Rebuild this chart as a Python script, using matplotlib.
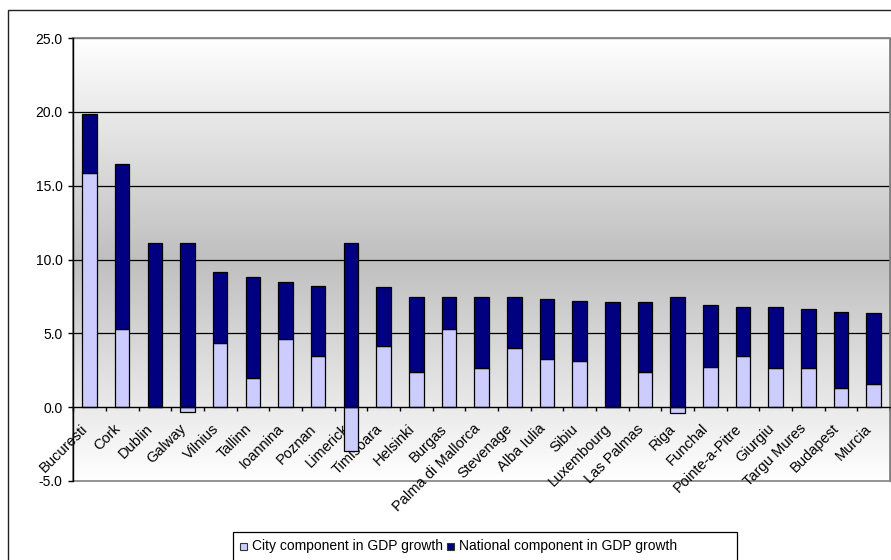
import numpy as np
import matplotlib
matplotlib.use("Agg")
import matplotlib.pyplot as plt
from matplotlib.patches import Rectangle
from matplotlib.transforms import ScaledTranslation

plt.rcParams['font.family'] = ['Liberation Sans', 'DejaVu Sans']
plt.rcParams['font.size'] = 10

cities = ["Bucuresti", "Cork", "Dublin", "Galway", "Vilnius", "Tallinn", "Ioannina",
          "Poznan", "Limerick", "Timisoara", "Helsinki", "Burgas", "Palma di Mallorca",
          "Stevenage", "Alba Iulia", "Sibiu", "Luxembourg", "Las Palmas", "Riga",
          "Funchal", "Pointe-a-Pitre", "Giurgiu", "Targu Mures", "Budapest", "Murcia"]

city_component = [15.84, 5.29, 0.0, -0.32, 4.32, 1.99, 4.62, 3.46, -3.0, 4.13, 2.39,
                  5.28, 2.66, 4.02, 3.25, 3.16, 0.0, 2.39, -0.38, 2.75, 3.45, 2.66,
                  2.66, 1.31, 1.60]

national_component = [3.98, 11.15, 11.15, 11.15, 4.84, 6.81, 3.86, 4.75, 11.15, 4.00,
                      5.04, 2.15, 4.77, 3.41, 4.06, 4.06, 7.13, 4.74, 7.43, 4.18, 3.30,
                      4.09, 3.98, 5.15, 4.77]

series_labels = ["City component in GDP growth", "National component in GDP growth"]
y_ticks = [-5, 0, 5, 10, 15, 20, 25]

CITY_COLOR = "#CCCCFF"
NATIONAL_COLOR = "#000080"

W, H = 891, 560
fig = plt.figure(figsize=(W / 100, H / 100), dpi=100)
fig.patch.set_facecolor("white")

left, right, top, bottom = 73.3, 890, 38, 481
ax = fig.add_axes([left / W, 1 - bottom / H, (right - left) / W, (bottom - top) / H])

x = np.arange(len(cities))
city = np.array(city_component)
national = np.array(national_component)

ax.set_xlim(-0.5, len(cities) - 0.5)
ax.set_ylim(y_ticks[0], y_ticks[-1])

# vertical gradient: light at top and bottom, grey in the middle
t = np.linspace(0, 1, 400)
shade = 1 - (1 - np.abs(2 * t - 1)) * (1 - 0.75)
grad = np.repeat(shade[:, None], 3, axis=1)[:, None, :]
ax.imshow(grad, extent=[0, 1, 0, 1], transform=ax.transAxes, aspect="auto",
          zorder=0, interpolation="bilinear")
ax.set_facecolor("none")

# horizontal gridlines inside the value range
for yv in y_ticks[1:-1]:
    if yv != 0:
        ax.axhline(yv, color="black", lw=0.9, zorder=1)

bar_w = 0.44
ax.bar(x, city, width=bar_w, color=CITY_COLOR, edgecolor="black", linewidth=0.9,
       zorder=2, label=series_labels[0])
ax.bar(x, national, width=bar_w, bottom=np.clip(city, 0, None), color=NATIONAL_COLOR,
       edgecolor="black", linewidth=0.9, zorder=2, label=series_labels[1])

# frame of the plot area
for s in ["top", "right"]:
    ax.spines[s].set_color("#808080")
    ax.spines[s].set_linewidth(1.0)
ax.add_patch(Rectangle((0, 0), 1, 1, transform=ax.transAxes, fill=False,
                       edgecolor="#808080", lw=1.2, zorder=1.5, clip_on=False))
ax.spines["left"].set_color("black")
ax.spines["left"].set_linewidth(1.0)
ax.spines["left"].set_zorder(3)
ax.spines["bottom"].set_position(("data", 0))
ax.spines["bottom"].set_color("black")
ax.spines["bottom"].set_linewidth(1.0)
ax.spines["bottom"].set_zorder(3)

ax.set_yticks(y_ticks)
ax.set_yticklabels([f"{v:.1f}" for v in y_ticks])
ax.tick_params(axis="y", direction="out", length=3.6, width=1, pad=4, colors="black")

ax.set_xticks(x)
ax.set_xticklabels(cities, rotation=45, ha="right", va="center",
                   rotation_mode="anchor", fontsize=10.5)
ax.set_xticks(np.arange(-0.5, len(cities), 1.0), minor=True)
ax.tick_params(axis="x", which="major", length=0, pad=14)
ax.tick_params(axis="x", which="minor", direction="out", length=3.2, width=1)
shift = ScaledTranslation(-4 / 100, 0, fig.dpi_scale_trans)
for lab in ax.get_xticklabels():
    lab.set_transform(lab.get_transform() + shift)

# legend box below the plot
lx0, lx1, ly0 = 233, 737, 532
fig.patches.append(Rectangle((lx0 / W, -0.05), (lx1 - lx0) / W, (1 - ly0 / H) + 0.05,
                             transform=fig.transFigure, fill=False,
                             edgecolor="black", lw=0.9))
ly = 1 - 546 / H
for (mx, tx), col, lab in zip([(240, 252), (447, 459)], [CITY_COLOR, NATIONAL_COLOR],
                              series_labels):
    fig.patches.append(Rectangle((mx / W, ly - 3.5 / H), 7 / W, 7 / H,
                                 transform=fig.transFigure, facecolor=col,
                                 edgecolor="#333333", lw=0.8))
    fig.text(tx / W, ly, lab, ha="left", va="center", fontsize=10)

# outer chart border
fig.patches.append(Rectangle((8 / W, -0.1), 2, (1 - 10 / H) + 0.1,
                             transform=fig.transFigure, fill=False,
                             edgecolor="#222222", lw=1.0))

fig.savefig("out.png", dpi=100)
